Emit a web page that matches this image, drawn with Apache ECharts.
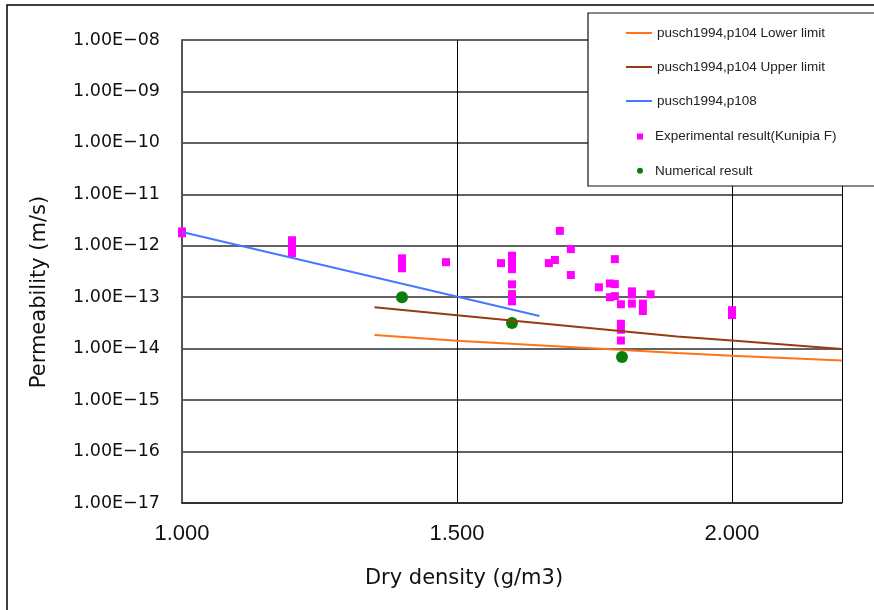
<!DOCTYPE html>
<html>
<head>
<meta charset="utf-8">
<script src="https://cdn.jsdelivr.net/npm/echarts@6/dist/echarts.min.js"></script>
<style>
  html, body { margin: 0; padding: 0; background: #fff; }
  #chart { width: 874px; height: 610px; }
</style>
</head>
<body>
<div id="chart"></div>
<script>
// dry density (g/cm3) vs permeability (m/s)
const lowerX = [1.35, 1.5, 1.9, 2.0, 2.2]
const lowerY = [1.84e-14, 1.42e-14, 8.2e-15, 7.3e-15, 5.9e-15]
const upperX = [1.35, 1.5, 1.9, 2.0, 2.2]
const upperY = [6.4e-14, 4.45e-14, 1.72e-14, 1.44e-14, 9.8e-15]
const p108X = [1.0, 1.65]
const p108Y = [1.85e-12, 4.3e-14]

const expX = [1.0, 1.0, 1.2, 1.2, 1.2, 1.4, 1.4, 1.4, 1.48, 1.58,
  1.6, 1.6, 1.6, 1.6, 1.6, 1.6, 1.667, 1.678, 1.687, 1.707, 1.707,
  1.758, 1.778, 1.778, 1.787, 1.787, 1.787, 1.798, 1.798, 1.798, 1.798,
  1.818, 1.818, 1.818, 1.838, 1.838, 1.852, 2.0, 2.0]
const expY = [1.9e-12, 1.75e-12, 1.28e-12, 9.6e-13, 7.2e-13, 5.7e-13, 4.56e-13, 3.65e-13, 4.8e-13, 4.6e-13,
  6.4e-13, 4.7e-13, 3.5e-13, 1.78e-13, 1.15e-13, 8.3e-14, 4.6e-13, 5.3e-13, 1.95e-12, 8.6e-13, 2.7e-13,
  1.56e-13, 1.85e-13, 1.0e-13, 5.5e-13, 1.8e-13, 1.05e-13, 7.3e-14, 3.05e-14, 2.33e-14, 1.44e-14,
  1.3e-13, 1.13e-13, 7.5e-14, 7.5e-14, 5.4e-14, 1.14e-13, 5.6e-14, 4.5e-14]

const numX = [1.4, 1.6, 1.8]
const numY = [1.0e-13, 3.14e-14, 6.9e-15]

const lineNames = ['pusch1994,p104 Lower limit', 'pusch1994,p104 Upper limit', 'pusch1994,p108']
const pointNames = ['Experimental result(Kunipia F)', 'Numerical result']

const zip = (xs, ys) => xs.map((x, i) => [x, ys[i]])

function yLabel(v) {
  const e = Math.round(Math.log10(v))
  const s = String(Math.abs(e)).padStart(2, '0')
  return '1.00E' + (e < 0 ? '\u2212' : '+') + s
}

var myChart = echarts.init(document.getElementById('chart'))
myChart.setOption({
  animation: false,
  backgroundColor: '#fff',
  grid: { left: 182, right: 32, top: 40, bottom: 107, containLabel: false, outerBoundsMode: 'none' },
  xAxis: {
    type: 'value', min: 1, max: 2.2, interval: 0.5,
    axisLine: { lineStyle: { color: '#222', width: 1.5 } },
    axisTick: { show: false },
    axisLabel: {
      showMaxLabel: false, margin: 20, color: '#111',
      fontFamily: 'Liberation Sans', fontSize: 22,
      formatter: v => v.toFixed(3)
    },
    splitLine: { show: true, lineStyle: { color: '#000', width: 1 } }
  },
  yAxis: {
    type: 'log', logBase: 10, min: 1e-17, max: 1e-8, splitNumber: 9,
    axisLine: { show: true, lineStyle: { color: '#555', width: 2 } },
    axisTick: { show: false },
    axisLabel: {
      margin: 22, color: '#111',
      fontFamily: 'DejaVu Sans', fontSize: 17.5,
      formatter: yLabel
    },
    splitLine: { show: true, lineStyle: { color: '#2e2e2e', width: 1.5 } }
  },
  legend: [
    {
      data: lineNames, orient: 'vertical', left: 625, top: 26, padding: 0,
      itemWidth: 26, itemHeight: 14, itemGap: 20, z: 20,
      itemStyle: { opacity: 0, borderWidth: 0 },
      textStyle: { fontFamily: 'Liberation Sans', fontSize: 13.5, color: '#222' }
    },
    {
      data: [
        { name: pointNames[0], icon: 'path://M0,0L10,0L10,10L0,10Z' },
        { name: pointNames[1], icon: 'circle' }
      ],
      orient: 'vertical', left: 637, top: 129.5, padding: 0,
      itemWidth: 20, itemHeight: 6, itemGap: 20.3, z: 20,
      textStyle: { fontFamily: 'Liberation Sans', fontSize: 13.5, color: '#222' }
    }
  ],
  graphic: [
    { type: 'rect', z: -1, silent: true, shape: { x: 7, y: 5, width: 900, height: 700 },
      style: { fill: 'none', stroke: '#000', lineWidth: 1.5 } },
    { type: 'rect', z: 10, silent: true, shape: { x: 588, y: 13, width: 300, height: 173 },
      style: { fill: '#fff', stroke: '#111', lineWidth: 1.2 } },
    { type: 'text', x: 464, y: 579, silent: true,
      style: { text: 'Dry density (g/m3)', font: '21px "DejaVu Sans"', fill: '#111',
        align: 'center', verticalAlign: 'middle', textAlign: 'center', textVerticalAlign: 'middle' } },
    { type: 'text', x: 40, y: 292, rotation: Math.PI / 2, silent: true,
      style: { text: 'Permeability (m/s)', font: '21px "DejaVu Sans"', fill: '#111',
        align: 'center', verticalAlign: 'middle', textAlign: 'center', textVerticalAlign: 'middle' } }
  ],
  series: [
    { name: lineNames[0], type: 'line', symbol: 'none', data: zip(lowerX, lowerY),
      lineStyle: { color: '#ff7417', width: 2 }, itemStyle: { color: '#ff7417' } },
    { name: lineNames[1], type: 'line', symbol: 'none', data: zip(upperX, upperY),
      lineStyle: { color: '#993b10', width: 2 }, itemStyle: { color: '#993b10' } },
    { name: lineNames[2], type: 'line', symbol: 'none', data: zip(p108X, p108Y),
      lineStyle: { color: '#4479ff', width: 2 }, itemStyle: { color: '#4479ff' } },
    { name: pointNames[0], type: 'scatter', symbol: 'rect', symbolSize: 8, data: zip(expX, expY),
      itemStyle: { color: '#ff00ff', opacity: 1 } },
    { name: pointNames[1], type: 'scatter', symbol: 'circle', symbolSize: 12, data: zip(numX, numY),
      itemStyle: { color: '#0a7d0a', opacity: 1 } }
  ]
})
</script>
</body>
</html>
